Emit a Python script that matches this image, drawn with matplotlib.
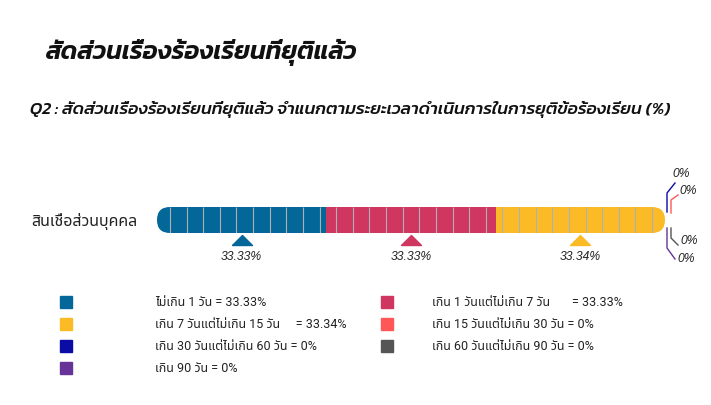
import numpy as np
import matplotlib
matplotlib.use("Agg")
import matplotlib.pyplot as plt
from matplotlib.patches import FancyBboxPatch, Rectangle
from matplotlib.transforms import IdentityTransform

# ข้อมูล
title = "สัดส่วนเรื่องร้องเรียนที่ยุติแล้ว"
subtitle = "Q2 : สัดส่วนเรื่องร้องเรียนที่ยุติแล้ว จำแนกตามระยะเวลาดำเนินการในการยุติข้อร้องเรียน (%)"
row_label = "สินเชื่อส่วนบุคคล"
categories = [
    "ไม่เกิน 1 วัน",
    "เกิน 1 วันแต่ไม่เกิน 7 วัน",
    "เกิน 7 วันแต่ไม่เกิน 15 วัน",
    "เกิน 15 วันแต่ไม่เกิน 30 วัน",
    "เกิน 30 วันแต่ไม่เกิน 60 วัน",
    "เกิน 60 วันแต่ไม่เกิน 90 วัน",
    "เกิน 90 วัน",
]
legend_gap = ["", "      ", "    ", "", "", "", ""]
values = [33.33, 33.33, 33.34, 0, 0, 0, 0]
colors = ["#03679a", "#cf3660", "#fabb26", "#ff5757", "#0b0ba6", "#555555", "#663399"]

W, H = 711, 405
fig = plt.figure(figsize=(W / 100, H / 100), dpi=100)
thai_sans = ["Roboto", "Noto Sans Thai", "DejaVu Sans"]

# แกนของแท่ง: x 0..100 -> px 157..665, y กลางแท่งที่ px 220
ax_l, ax_r, ax_t, ax_b = 157, 665, 165, 275
ax = fig.add_axes([ax_l / W, 1 - ax_b / H, (ax_r - ax_l) / W, (ax_b - ax_t) / H])
bar_px = 26
half = (ax_b - ax_t) / 2 / bar_px
ax.set_xlim(0, 100)
ax.set_ylim(-half, half)
for s in ax.spines.values():
    s.set_visible(False)
ax.set_xticks([])
ax.set_yticks([0], [row_label], fontsize=11.5, family=thai_sans, color="#222222")
ax.tick_params(axis="y", length=0, pad=14)

xppu = (ax_r - ax_l) / 100
yppu = bar_px
rad = 0.5 * yppu / xppu
clip = FancyBboxPatch((0, -0.5), 100, 1, boxstyle=f"round,pad=0,rounding_size={rad}",
                      mutation_aspect=xppu / yppu, transform=ax.transData)

lefts = np.concatenate([[0], np.cumsum(values)[:-1]])
bars = ax.barh(0, values, left=lefts, height=1, color=colors, linewidth=0)
for b in bars:
    b.set_clip_path(clip)

grid = ax.vlines(np.linspace(rad, 100 - rad, 30), -0.5, 0.5, color="#b0b0b0", lw=0.8)
grid.set_clip_path(clip)

tri = [(-1, -0.5), (1, -0.5), (0, 0.5), (-1, -0.5)]
pct_font = dict(family="Liberation Sans", style="italic", fontsize=8.7, color="#222222")
for v, left, c in zip(values, lefts, colors):
    if v > 0:
        mid = left + v / 2
        ax.plot(mid, -20 / bar_px, marker=tri, markersize=14.4, color=c, linestyle="none", clip_on=False)
        ax.text(mid, -37 / bar_px, f"{v:g}%", ha="center", va="center", **pct_font)

# เส้นชี้ค่า 0%
slots = [
    ([(6, -7), (6, -20), (13, -25)], (23.5, -29)),
    ([(2, -8), (2, -27), (10, -37)], (16.5, -46)),
    ([(6, 8), (6, 18), (13, 25)], (24, 20.5)),
    ([(2, 8), (2, 28), (10, 39)], (21.5, 39.5)),
]
fig.canvas.draw()
k = 0
for v, left, c in zip(values, lefts, colors):
    if v == 0 and k < len(slots):
        bx, by = ax.transData.transform((left, 0))
        pts, txt = slots[k]
        xs = [bx + dx for dx, dy in pts]
        ys = [by - dy for dx, dy in pts]
        fig.add_artist(plt.Line2D(xs, ys, color=c, lw=1, transform=IdentityTransform()))
        fig.text(bx + txt[0], by - txt[1], f"{v:g}%", ha="center", va="center",
                 transform=IdentityTransform(), **pct_font)
        k += 1

# ชื่อกราฟ
fig.text(45 / W, 1 - 52 / H, title, family="Kanit", style="italic", weight=600,
         fontsize=18.2, va="center", ha="left", color="#111111")
fig.text(30 / W, 1 - 110 / H, subtitle, family="Kanit", style="italic", weight=500,
         fontsize=12.5, va="center", ha="left", color="#111111")

# คำอธิบายสี
leg_font = dict(family=thai_sans, fontsize=9, color="#222222")
for i, (cat, gap, v, c) in enumerate(zip(categories, legend_gap, values, colors)):
    row, col = i // 2, i % 2
    y = 302 + 22 * row
    sx = [60, 381][col]
    tx = [155, 432][col]
    fig.add_artist(Rectangle((sx / W, 1 - (y + 6) / H), 12 / W, 12 / H, color=c,
                             transform=fig.transFigure))
    fig.text(tx / W, 1 - y / H, f"{cat}{gap} = {v:g}%", va="center", ha="left", **leg_font)

fig.savefig("out.png", dpi=100)
